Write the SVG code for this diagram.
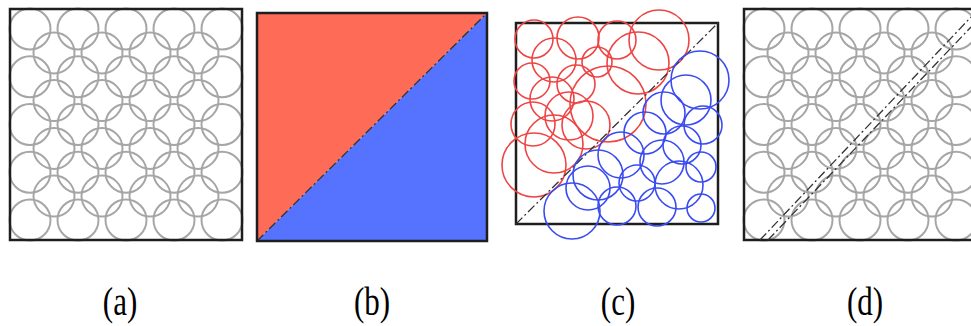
<svg xmlns="http://www.w3.org/2000/svg" xmlns:xlink="http://www.w3.org/1999/xlink" width="971" height="326" viewBox="0 0 971 326">
<style>
.ring{fill:none;stroke:#a6a6a6;stroke-width:2}
.frame{fill:none;stroke:#1e1e1e;stroke-width:2.5}
.red{fill:none;stroke:#ee4444;stroke-width:1.6}
.blue{fill:none;stroke:#3a4cf0;stroke-width:1.6}
.dd{fill:none;stroke:#333;stroke-width:1.3;stroke-dasharray:9 3 2 3}
.lbl{font-family:"Liberation Serif","Times New Roman",serif;font-size:31px;fill:#000;text-anchor:middle}
</style>
<defs>
<g id="grid">
<circle class="ring" cx="20" cy="20" r="20.5"/><circle class="ring" cx="68" cy="20" r="20.5"/><circle class="ring" cx="116" cy="20" r="20.5"/><circle class="ring" cx="164" cy="20" r="20.5"/><circle class="ring" cx="212" cy="20" r="20.5"/>
<circle class="ring" cx="20" cy="67.75" r="20.5"/><circle class="ring" cx="68" cy="67.75" r="20.5"/><circle class="ring" cx="116" cy="67.75" r="20.5"/><circle class="ring" cx="164" cy="67.75" r="20.5"/><circle class="ring" cx="212" cy="67.75" r="20.5"/>
<circle class="ring" cx="20" cy="115.5" r="20.5"/><circle class="ring" cx="68" cy="115.5" r="20.5"/><circle class="ring" cx="116" cy="115.5" r="20.5"/><circle class="ring" cx="164" cy="115.5" r="20.5"/><circle class="ring" cx="212" cy="115.5" r="20.5"/>
<circle class="ring" cx="20" cy="163.25" r="20.5"/><circle class="ring" cx="68" cy="163.25" r="20.5"/><circle class="ring" cx="116" cy="163.25" r="20.5"/><circle class="ring" cx="164" cy="163.25" r="20.5"/><circle class="ring" cx="212" cy="163.25" r="20.5"/>
<circle class="ring" cx="20" cy="211" r="20.5"/><circle class="ring" cx="68" cy="211" r="20.5"/><circle class="ring" cx="116" cy="211" r="20.5"/><circle class="ring" cx="164" cy="211" r="20.5"/><circle class="ring" cx="212" cy="211" r="20.5"/>
<circle class="ring" cx="44" cy="43.9" r="20.5"/><circle class="ring" cx="92" cy="43.9" r="20.5"/><circle class="ring" cx="140" cy="43.9" r="20.5"/><circle class="ring" cx="188" cy="43.9" r="20.5"/>
<circle class="ring" cx="44" cy="91.6" r="20.5"/><circle class="ring" cx="92" cy="91.6" r="20.5"/><circle class="ring" cx="140" cy="91.6" r="20.5"/><circle class="ring" cx="188" cy="91.6" r="20.5"/>
<circle class="ring" cx="44" cy="139.4" r="20.5"/><circle class="ring" cx="92" cy="139.4" r="20.5"/><circle class="ring" cx="140" cy="139.4" r="20.5"/><circle class="ring" cx="188" cy="139.4" r="20.5"/>
<circle class="ring" cx="44" cy="187.1" r="20.5"/><circle class="ring" cx="92" cy="187.1" r="20.5"/><circle class="ring" cx="140" cy="187.1" r="20.5"/><circle class="ring" cx="188" cy="187.1" r="20.5"/>
</g>
</defs>
<rect width="971" height="326" fill="#fff"/>

<g id="panel-a">
<use xlink:href="#grid" href="#grid" transform="translate(10,9)"/>
<rect class="frame" x="10" y="9" width="232" height="231"/>
</g>

<g id="panel-b">
<polygon points="257,13 487,13 257,241" fill="#fe6b57"/>
<polygon points="487,13 487,241 257,241" fill="#5573fe"/>
<line class="dd" x1="257" y1="241" x2="487" y2="13" stroke="#222"/>
<rect class="frame" x="257" y="13" width="230" height="228"/>
</g>

<g id="panel-c">
<rect class="frame" x="516" y="23" width="202" height="201" stroke-width="2"/>
<g id="red-circles">
<circle class="red" cx="534" cy="39" r="19"/>
<circle class="red" cx="578" cy="38" r="21"/>
<circle class="red" cx="617" cy="40" r="19"/>
<circle class="red" cx="659" cy="40" r="30"/>
<circle class="red" cx="638" cy="63" r="31"/>
<circle class="red" cx="554" cy="60" r="22"/>
<circle class="red" cx="597" cy="62" r="15"/>
<circle class="red" cx="532" cy="81" r="18"/>
<circle class="red" cx="576" cy="84" r="19"/>
<circle class="red" cx="552" cy="99" r="22"/>
<circle class="red" cx="608" cy="104" r="38"/>
<circle class="red" cx="586" cy="125" r="24"/>
<circle class="red" cx="533" cy="124" r="22"/>
<circle class="red" cx="569" cy="116" r="24"/>
<circle class="red" cx="554" cy="144" r="29"/>
<circle class="red" cx="534" cy="165" r="32"/>
</g>
<line class="dd" x1="516" y1="224" x2="718" y2="23" stroke="#777" stroke-width="1.2"/>
<g id="blue-circles">
<circle class="blue" cx="700" cy="80" r="29"/>
<circle class="blue" cx="686" cy="100" r="25"/>
<circle class="blue" cx="664" cy="113" r="21"/>
<circle class="blue" cx="703" cy="125" r="19"/>
<circle class="blue" cx="645" cy="133" r="21"/>
<circle class="blue" cx="682" cy="145" r="19"/>
<circle class="blue" cx="621" cy="155" r="23"/>
<circle class="blue" cx="701" cy="167" r="15"/>
<circle class="blue" cx="662" cy="162" r="22"/>
<circle class="blue" cx="598" cy="175" r="25"/>
<circle class="blue" cx="679" cy="185" r="24"/>
<circle class="blue" cx="637" cy="183" r="18"/>
<circle class="blue" cx="617" cy="206" r="19"/>
<circle class="blue" cx="657" cy="207" r="19"/>
<circle class="blue" cx="701" cy="208" r="14"/>
<circle class="blue" cx="572" cy="211" r="28"/>
<circle class="blue" cx="588" cy="188" r="22"/>
</g>
</g>

<g id="panel-d">
<use xlink:href="#grid" href="#grid" transform="translate(744,9)"/>
<rect class="frame" x="744" y="9" width="232" height="231"/>
<line class="dd" x1="760" y1="240" x2="971" y2="17"/>
<line class="dd" x1="768" y1="240" x2="971" y2="27"/>
</g>

<g id="labels">
<text class="lbl" transform="translate(120,315) scale(1,1.3)">(a)</text>
<text class="lbl" transform="translate(372,315) scale(1,1.3)">(b)</text>
<text class="lbl" transform="translate(618,315) scale(1,1.3)">(c)</text>
<text class="lbl" transform="translate(865,315) scale(1,1.3)">(d)</text>
</g>
</svg>
